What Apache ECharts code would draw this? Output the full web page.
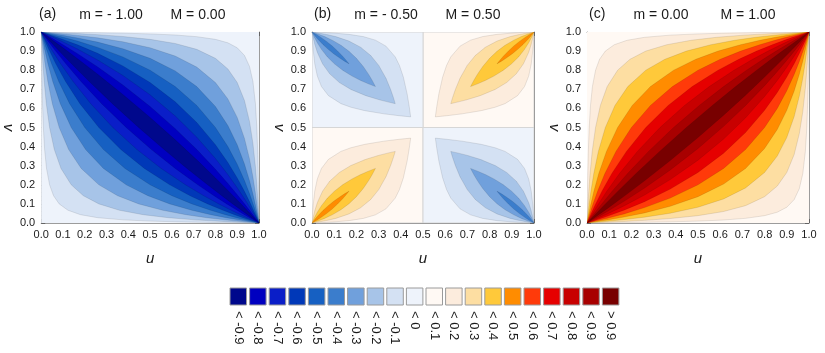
<!DOCTYPE html>
<html><head><meta charset="utf-8">
<script src="https://cdn.jsdelivr.net/npm/echarts@6/dist/echarts.min.js"></script>
<style>html,body{margin:0;padding:0;background:#fff}#c{width:825px;height:353px}</style>
</head><body><div id="c"></div>
<script>
// ---------------- data ----------------
const TICKS = [0,0.1,0.2,0.3,0.4,0.5,0.6,0.7,0.8,0.9,1.0];
const LEGEND_LABELS = ['< -0.9','< -0.8','< -0.7','< -0.6','< -0.5','< -0.4','< -0.3','< -0.2','< -0.1','< 0',
                       '< 0.1','< 0.2','< 0.3','< 0.4','< 0.5','< 0.6','< 0.7','< 0.8','< 0.9','> 0.9'];
const LEGEND_COLORS = ['#00088c','#0000c0','#0a1ec8','#0038b8','#1660c2','#3b7dcc','#70a0dc','#a7c4e8','#d4e1f3','#eef3fb',
                       '#fff9f4','#fcecdd','#fddea2','#ffc93a','#ff8c00','#ff3a0a','#e60000','#c80000','#a80000','#780000'];
const PANEL_TAGS = ['(a)','(b)','(c)'];
const PANEL_MIN = ['m = - 1.00','m = - 0.50','m = 0.00'];
const PANEL_MAX = ['M = 0.00','M = 0.50','M = 1.00'];

// panel (c): contour levels 0.1 ... 0.9, branch above the diagonal (u < v);
// the branch below the diagonal is its mirror image (u <-> v).
const C_LEVELS = [0.1,0.2,0.3,0.4,0.5,0.6,0.7,0.8,0.9];
const C_V = [0.0099,0.0291,0.0909,0.1667,0.2593,0.375,0.5,0.6154,0.7143,0.8,0.8571,0.9,0.9333,0.9565,0.9722,0.9836,0.9901,0.9945,0.9972,0.9988,0.9996,0.9999];
const C_U_01 = [0.0001,0.0003,0.001,0.002,0.0035,0.006,0.0099,0.0157,0.0244,0.0385,0.0566,0.0826,0.1228,0.1803,0.2593,0.375,0.5,0.6429,0.7778,0.8889,0.9615,0.9901];
const C_U_02 = [0.0004,0.0012,0.004,0.0079,0.0138,0.0234,0.0385,0.0602,0.0909,0.1379,0.1935,0.2647,0.359,0.4681,0.5833,0.7059,0.8,0.878,0.9333,0.9697,0.9901,0.9975];
const C_U_03 = [0.0009,0.0027,0.0089,0.0177,0.0305,0.0512,0.0826,0.1259,0.1837,0.2647,0.3506,0.4475,0.5575,0.6644,0.759,0.8438,0.9,0.9419,0.9692,0.9863,0.9956,0.9989];
const C_U_04 = [0.0016,0.0048,0.0157,0.031,0.053,0.0876,0.1379,0.2038,0.2857,0.3902,0.4898,0.5902,0.6914,0.7788,0.8485,0.9057,0.9412,0.9664,0.9825,0.9922,0.9975,0.9994];
const C_U_05 = [0.0025,0.0074,0.0244,0.0476,0.0805,0.1304,0.2,0.2857,0.3846,0.5,0.6,0.6923,0.7778,0.8462,0.8974,0.9375,0.9615,0.9783,0.9887,0.995,0.9984,0.9996];
const C_U_06 = [0.0036,0.0107,0.0347,0.0672,0.1119,0.1776,0.2647,0.3655,0.4737,0.5902,0.6835,0.7642,0.8344,0.8879,0.9265,0.9558,0.973,0.9848,0.9921,0.9965,0.9989,0.9997];
const C_U_07 = [0.0049,0.0145,0.0467,0.0893,0.1464,0.2272,0.3289,0.4395,0.5506,0.6622,0.7462,0.8152,0.8728,0.9151,0.9449,0.9671,0.98,0.9888,0.9942,0.9975,0.9992,0.9998];
const C_U_08 = [0.0064,0.0188,0.0602,0.1135,0.183,0.2775,0.3902,0.5059,0.6154,0.7191,0.7934,0.8521,0.8996,0.9337,0.9573,0.9746,0.9846,0.9914,0.9956,0.9981,0.9994,0.9998];
const C_U_09 = [0.008,0.0237,0.0749,0.1394,0.2209,0.327,0.4475,0.5645,0.6694,0.7642,0.8294,0.8794,0.919,0.9469,0.9659,0.9798,0.9878,0.9932,0.9965,0.9985,0.9995,0.9999];
const C_U = [C_U_01,C_U_02,C_U_03,C_U_04,C_U_05,C_U_06,C_U_07,C_U_08,C_U_09];
// panel (a) shows the same contour shapes as panel (c), mirrored top-to-bottom (v -> 1 - v), with negative levels.

// panel (b): levels 0.1 ... 0.4 in the lower-left quadrant, branch above the diagonal up to the lens tip;
// the other quadrants show the same lenses mirrored (positive: lower-left / upper-right, negative: the other two).
const B_LEVELS = [0.1,0.2,0.3,0.4];
const B_V_01 = [0.001,0.005,0.0196,0.0476,0.0909,0.1667,0.2308,0.2857,0.3333,0.375,0.3939,0.4118,0.4286,0.4382,0.4444];
const B_U_01 = [0.00004,0.0002,0.00083,0.0022,0.0049,0.0124,0.0239,0.0426,0.0741,0.1304,0.1751,0.2373,0.3243,0.3919,0.4444];
const B_V_02 = [0.002,0.0099,0.0291,0.0654,0.1071,0.1667,0.2188,0.2647,0.3007,0.3333,0.3548,0.3671,0.375];
const B_U_02 = [0.0003,0.0016,0.0051,0.0128,0.0242,0.0476,0.0796,0.1233,0.1748,0.2424,0.3029,0.3447,0.375];
const B_V_03 = [0.002,0.0099,0.0291,0.0566,0.0909,0.1304,0.1667,0.2,0.2308,0.2537,0.2701,0.2857];
const B_U_03 = [0.0007,0.0037,0.0114,0.0239,0.0426,0.0695,0.1011,0.1379,0.1806,0.2194,0.2513,0.2857];
const B_V_04 = [0.002,0.0079,0.0196,0.0385,0.0654,0.0909,0.115,0.1379,0.1525,0.1667];
const B_U_04 = [0.0013,0.0052,0.0132,0.027,0.0493,0.0732,0.099,0.1267,0.1463,0.1667];
const B_V = [B_V_01,B_V_02,B_V_03,B_V_04];
const B_U = [B_U_01,B_U_02,B_U_03,B_U_04];

// ---------------- build polygons ----------------
const LINE = 'rgba(0,0,0,0.16)';
function lensFull(us, vs) { // corner (0,0) to corner (1,1)
  const pts = [[0,0]];
  for (let i = 0; i < us.length; i++) pts.push([us[i], vs[i]]);
  pts.push([1,1]);
  for (let i = us.length - 1; i >= 0; i--) pts.push([vs[i], us[i]]);
  return pts;
}
function lensTip(us, vs) { // corner (0,0) to tip on the diagonal
  const pts = [[0,0]];
  for (let i = 0; i < us.length; i++) pts.push([us[i], vs[i]]);
  for (let i = us.length - 2; i >= 0; i--) pts.push([vs[i], us[i]]);
  return pts;
}
const SQUARE = [[0,0],[1,0],[1,1],[0,1]];
const polysA = [{pts: SQUARE, color: LEGEND_COLORS[9], stroke: 'none'}];
const polysC = [{pts: SQUARE, color: LEGEND_COLORS[10], stroke: 'none'}];
C_LEVELS.forEach((lv, k) => {
  const pts = lensFull(C_U[k], C_V);
  polysC.push({pts, color: LEGEND_COLORS[11 + k]});
  polysA.push({pts: pts.map(p => [p[0], 1 - p[1]]), color: LEGEND_COLORS[8 - k]});
});
const polysB = [];
const Q = [[0,0,0.5,0.5,10],[0.5,0.5,1,1,10],[0,0.5,0.5,1,9],[0.5,0,1,0.5,9]];
Q.forEach(q => polysB.push({pts: [[q[0],q[1]],[q[2],q[1]],[q[2],q[3]],[q[0],q[3]]], color: LEGEND_COLORS[q[4]], stroke: '#d6d6d6', lw: 1}));
B_LEVELS.forEach((lv, k) => {
  const pts = lensTip(B_U[k], B_V[k]);
  polysB.push({pts, color: LEGEND_COLORS[11 + k]});
  polysB.push({pts: pts.map(p => [1 - p[0], 1 - p[1]]), color: LEGEND_COLORS[11 + k]});
  polysB.push({pts: pts.map(p => [p[0], 1 - p[1]]), color: LEGEND_COLORS[8 - k]});
  polysB.push({pts: pts.map(p => [1 - p[0], p[1]]), color: LEGEND_COLORS[8 - k]});
});
const PANEL_POLYS = [polysA, polysB, polysC];

// ---------------- chart ----------------
const FONT = '"Liberation Sans Narrow","Liberation Sans",Arial,sans-serif';
const GRID_LEFT = [37, 312, 587];
const GRID_TOP = 32, GRID_W = 222, GRID_H = 191;
const FRAME = '#9c9c9c';

const grid = [], xAxis = [], yAxis = [], series = [], graphic = [];
for (let i = 0; i < 3; i++) {
  grid.push({left: GRID_LEFT[i], top: GRID_TOP, width: GRID_W, height: GRID_H, containLabel: false});
  const common = {
    gridIndex: i, type: 'value', min: 0, max: 1, interval: 0.1,
    axisLine: {show: true, onZero: false, lineStyle: {color: FRAME, width: 1}},
    axisTick: {show: true, inside: true, length: 4, lineStyle: {color: '#555', width: 0.8}},
    minorTick: {show: true, splitNumber: 5, length: 2, lineStyle: {color: '#777', width: 0.6}},
    splitLine: {show: false},
    axisLabel: {show: true, fontFamily: FONT, fontSize: 11, color: '#1a1a1a', margin: 6,
                formatter: v => v.toFixed(1), showMaxLabel: true, showMinLabel: true}
  };
  xAxis.push(Object.assign({}, common, {position: 'bottom', name: 'u', nameLocation: 'middle', nameGap: 28,
    nameTextStyle: {fontFamily: '"Liberation Sans",Arial,sans-serif', fontStyle: 'italic', fontSize: 15, color: '#1a1a1a'}}));
  xAxis.push(Object.assign({}, common, {position: 'top', axisLabel: {show: false}}));
  yAxis.push(Object.assign({}, common, {position: 'left', name: 'v', nameLocation: 'middle', nameGap: 25, nameRotate: -90,
    nameTextStyle: {fontFamily: '"Liberation Sans",Arial,sans-serif', fontStyle: 'italic', fontSize: 15, color: '#1a1a1a'}}));
  yAxis.push(Object.assign({}, common, {position: 'right', axisLabel: {show: false}}));
  const polys = PANEL_POLYS[i];
  series.push({
    type: 'custom', coordinateSystem: 'cartesian2d', xAxisIndex: 2 * i, yAxisIndex: 2 * i,
    silent: true, animation: false, clip: true, z: 1,
    data: polys.map((p, j) => [0.5, 0.5, j]),
    renderItem: (params, api) => {
      const p = polys[params.dataIndex];
      return {type: 'polygon', shape: {points: p.pts.map(q => api.coord(q))},
              style: {fill: p.color, stroke: p.stroke || LINE, lineWidth: p.lw || 0.6}};
    }
  });
  const gx = GRID_LEFT[i];
  graphic.push({type: 'text', left: gx + 2, top: 7, style: {text: PANEL_TAGS[i], font: '14px ' + FONT, fill: '#1a1a1a'}});
  graphic.push({type: 'text', x: gx + 74, y: 15, style: {text: PANEL_MIN[i], font: '14px ' + FONT, fill: '#1a1a1a', textAlign: 'center', textVerticalAlign: 'middle'}});
  graphic.push({type: 'text', x: gx + 161, y: 15, style: {text: PANEL_MAX[i], font: '14px ' + FONT, fill: '#1a1a1a', textAlign: 'center', textVerticalAlign: 'middle'}});
}
// legend
const LX = 230, LPITCH = 19.6;
LEGEND_COLORS.forEach((col, j) => {
  graphic.push({type: 'rect', shape: {x: LX + j * LPITCH, y: 288, width: 16.5, height: 17},
    style: {fill: col, stroke: '#9a9a9a', lineWidth: 1}});
  graphic.push({type: 'text', x: LX + j * LPITCH + 8.25, y: 311, rotation: -Math.PI / 2,
    style: {text: LEGEND_LABELS[j], font: '13px ' + FONT, fill: '#1a1a1a', textAlign: 'left', textVerticalAlign: 'middle'}});
});

const chart = echarts.init(document.getElementById('c'), null, {renderer: 'canvas'});
chart.setOption({animation: false, backgroundColor: '#ffffff', grid, xAxis, yAxis, series, graphic});
</script></body></html>
